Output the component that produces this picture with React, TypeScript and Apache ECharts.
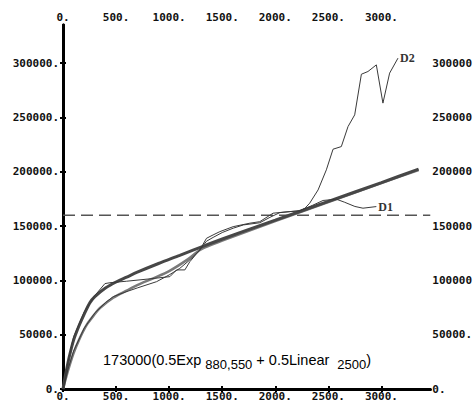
import React, { useEffect, useRef } from "react";
import * as echarts from "echarts";

// Fitted model: 173000(0.5Exp + 0.5Linear)
const modelX = [0, 30, 60, 100, 150, 200, 254, 300, 400, 500, 600, 700, 900, 1100, 1350, 1666, 2000, 2500, 3000, 3350];
const modelY = [0, 16000, 30000, 45000, 58000, 69000, 79500, 85000, 93000, 98500, 103000, 107500, 115500, 123000, 132500, 143900, 155400, 172700, 190000, 202300];

// Companion smooth curve (lower start, same tail)
const curveX = [0, 30, 60, 100, 150, 223, 300, 348, 473, 599, 700, 850, 1000, 1179, 1300, 1500, 2000, 2500, 3000, 3350];
const curveY = [0, 11000, 21000, 33000, 45000, 59000, 69000, 74500, 84000, 90500, 95500, 101900, 108500, 119500, 128500, 136500, 154600, 172000, 189500, 201500];

// Observed series D1
const d1X = [0, 50, 100, 200, 300, 400, 473, 567, 700, 882, 1000, 1100, 1195, 1289, 1352, 1414, 1500, 1603, 1700, 1854, 1950, 2042, 2136, 2230, 2350, 2450, 2575, 2650, 2750, 2826, 2952];
const d1Y = [0, 19000, 35000, 56000, 70000, 79500, 85000, 88500, 93000, 98800, 105000, 111000, 118800, 128000, 136000, 139500, 144000, 148000, 151000, 153000, 158000, 162300, 163300, 164000, 169000, 173500, 174700, 172000, 168000, 166400, 167900];

// Observed series D2
const d2X = [0, 40, 100, 200, 300, 395, 442, 600, 800, 1007, 1070, 1148, 1195, 1289, 1352, 1414, 1477, 1603, 1760, 1854, 1979, 2073, 2230, 2280, 2324, 2403, 2481, 2544, 2622, 2685, 2748, 2811, 2873, 2952, 3014, 3077, 3156];
const d2Y = [0, 22000, 48000, 71000, 86000, 97000, 97800, 99200, 101200, 103400, 109600, 109600, 117200, 128000, 138700, 141800, 144800, 149400, 152600, 154000, 161800, 162700, 164000, 166400, 171000, 183200, 201700, 220700, 223100, 241500, 252300, 289700, 292200, 298300, 263100, 290700, 304500];

// Reference level (dashed)
const levelX = [0, 3460];
const levelValue = 160000;

const xMax = 3460;
const yMax = 335000;
const xStep = 500;
const yStep = 50000;

const zip = (xs: number[], ys: number[]) => xs.map((x, i) => [x, ys[i]]);

const tickFont = {
  fontFamily: "DejaVu Sans Mono",
  fontWeight: "bold" as const,
  fontSize: 11,
  color: "#111",
};

const axisLine = { show: true, lineStyle: { color: "#000", width: 3 } };
const axisTick = { show: true, inside: true, length: 3, lineStyle: { color: "#000", width: 2 } };
const fmt = (v: number) => `${v}.`;

export default function App() {
  const ref = useRef<HTMLDivElement>(null);

  useEffect(() => {
    if (!ref.current) return;
    const chart = echarts.init(ref.current, undefined, { renderer: "svg" });

    const xCommon = {
      type: "value" as const,
      min: 0,
      max: xMax,
      interval: xStep,
      axisLine,
      axisTick,
      splitLine: { show: false },
      axisLabel: { ...tickFont, formatter: fmt, margin: 2, showMaxLabel: false },
    };
    const yCommon = {
      type: "value" as const,
      min: 0,
      max: yMax,
      interval: yStep,
      axisLine,
      axisTick,
      splitLine: { show: false },
      axisLabel: { ...tickFont, formatter: fmt, margin: 4, showMaxLabel: false },
    };

    const endLabel = (name: string) => ({
      show: true,
      formatter: name,
      distance: 2,
      fontFamily: "Liberation Serif",
      fontWeight: "bold" as const,
      fontSize: 12,
      color: "#333",
    });

    chart.setOption({
      animation: false,
      backgroundColor: "#fff",
      grid: { left: 63, right: 44, top: 25, bottom: 17, containLabel: false },
      xAxis: [
        { ...xCommon, position: "bottom" },
        { ...xCommon, position: "top" },
      ],
      yAxis: [
        { ...yCommon, position: "left" },
        {
          ...yCommon,
          position: "right",
          axisLabel: {
            ...yCommon.axisLabel,
            margin: 2,
            width: 42,
            overflow: "truncate",
            ellipsis: "",
          },
        },
      ],
      series: [
        {
          type: "line",
          data: levelX.map((x) => [x, levelValue]),
          symbol: "none",
          lineStyle: { color: "#555", width: 1.5, type: [12, 6] },
          z: 1,
        },
        {
          type: "line",
          data: zip(curveX, curveY),
          symbol: "none",
          smooth: 0.3,
          lineStyle: { color: "#7a7a7a", width: 2.5 },
          z: 2,
        },
        {
          type: "line",
          data: zip(modelX, modelY),
          symbol: "none",
          smooth: 0.3,
          lineStyle: { color: "#474747", width: 3 },
          z: 3,
        },
        {
          type: "line",
          name: "D1",
          data: zip(d1X, d1Y),
          symbol: "none",
          lineStyle: { color: "#3a3a3a", width: 1 },
          endLabel: endLabel("D1"),
          z: 4,
        },
        {
          type: "line",
          name: "D2",
          data: zip(d2X, d2Y),
          symbol: "none",
          lineStyle: { color: "#3a3a3a", width: 1 },
          endLabel: endLabel("D2"),
          z: 4,
        },
      ],
      graphic: [
        {
          type: "text",
          left: 103,
          top: 350,
          style: {
            text: "{a|173000(0.5Exp}{s|880,550}{a| + 0.5Linear}{t|2500}{a|)}",
            rich: {
              a: {
                fontFamily: "Liberation Sans",
                fontSize: 14.5,
                color: "#000",
                lineHeight: 17,
                verticalAlign: "top",
              },
              s: {
                fontFamily: "Liberation Sans",
                fontSize: 13,
                color: "#000",
                lineHeight: 14,
                padding: [8, 0, 0, 4],
              },
              t: {
                fontFamily: "Liberation Sans",
                fontSize: 13,
                color: "#000",
                lineHeight: 14,
                padding: [8, 0, 0, 8],
              },
            },
          },
        },
      ],
    });

    return () => chart.dispose();
  }, []);

  return (
    <div
      ref={ref}
      style={{ position: "fixed", left: 0, top: 0, width: 475, height: 406 }}
    />
  );
}
